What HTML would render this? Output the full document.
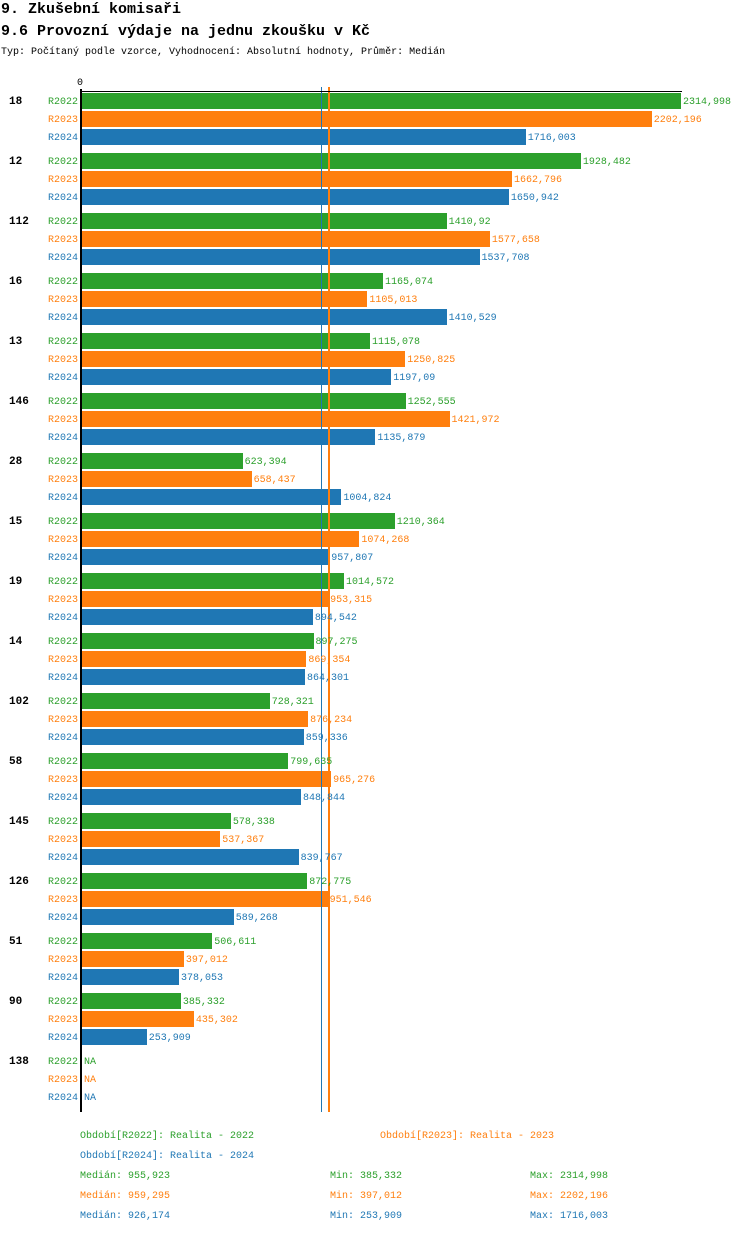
<!DOCTYPE html>
<html><head><meta charset="utf-8"><style>
body{margin:0;background:#fff;width:750px;height:1232px;overflow:hidden;font-family:"Liberation Mono","DejaVu Sans Mono",monospace}
svg text{font-family:"Liberation Mono","DejaVu Sans Mono",monospace}
</style></head><body>
<svg id="chart" width="750" height="1232" xmlns="http://www.w3.org/2000/svg" shape-rendering="crispEdges">
<text x="1" y="13" font-size="15" font-weight="bold">9. Zkušební komisaři</text>
<text x="1" y="35" font-size="15" font-weight="bold">9.6 Provozní výdaje na jednu zkoušku v Kč</text>
<text x="1" y="54" font-size="10">Typ: Počítaný podle vzorce, Vyhodnocení: Absolutní hodnoty, Průměr: Medián</text>
<g id="bars"></g>
</svg>
<script>
const categories=["18","12","112","16","13","146","28","15","19","14","102","58","145","126","51","90","138"];
const seriesNames=["R2022","R2023","R2024"];
const colors=["#2ca02c","#ff7f0e","#1f77b4"];
const r2022=[2314.998,1928.482,1410.92,1165.074,1115.078,1252.555,623.394,1210.364,1014.572,897.275,728.321,799.635,578.338,872.775,506.611,385.332,null];
const r2023=[2202.196,1662.796,1577.658,1105.013,1250.825,1421.972,658.437,1074.268,953.315,869.354,876.234,965.276,537.367,951.546,397.012,435.302,null];
const r2024=[1716.003,1650.942,1537.708,1410.529,1197.09,1135.879,1004.824,957.807,894.542,864.301,859.336,848.844,839.767,589.268,378.053,253.909,null];
const medians=[955.923,959.295,926.174];
const mins=[385.332,397.012,253.909];
const maxs=[2314.998,2202.196,1716.003];
const series=[r2022,r2023,r2024];
const NS="http://www.w3.org/2000/svg";
const g=document.getElementById('bars');
const x0=81, maxV=Math.max(...maxs), pxMax=600;
const xs=v=>x0+v/maxV*pxMax;
const fmt=v=>String(v).replace('.',',');
function mk(tag,attrs,txt){const e=document.createElementNS(NS,tag);for(const k in attrs)e.setAttribute(k,attrs[k]);if(txt!==undefined)e.textContent=txt;g.appendChild(e);return e;}
const top0=93,groupH=60,barPitch=18,barH=16;
const labels=[];
categories.forEach((c,i)=>{
  const gy=top0+i*groupH;
  const t=mk('text',{x:9,y:gy+11,'font-size':11,'font-weight':'bold'},c);
  
  
  series.forEach((s,j)=>{
    const y=gy+j*barPitch;
    const sl=mk('text',{x:78,y:y+11,'font-size':10,fill:colors[j],'text-anchor':'end'},seriesNames[j]);
    
    
    const v=s[i];
    if(v===null){
      const na=mk('text',{x:84,y:y+11,'font-size':10,fill:colors[j]},'NA');
      
      
      return;
    }
    const r=mk('rect',{x:x0,y:y,width:Math.round(xs(v)-x0),height:barH,fill:colors[j]});
    
    
    labels.push([xs(v)+2,y+11,fmt(v),colors[j]]);
  });
});
const bottom=1112;
[0,2,1].forEach(j=>{
  const w=j===1?2:1;
  const ml=mk('rect',{x:Math.floor(xs(medians[j]))-(w-1),y:87,width:w,height:bottom-87,fill:colors[j]});
  
  
});
labels.forEach(l=>{
  const vl=mk('text',{x:l[0],y:l[1],'font-size':10,fill:l[3]},l[2]);
  
  
});
const ax=mk('rect',{x:80,y:89,width:2,height:bottom-89,fill:'#000'});


const tx=mk('rect',{x:80,y:91,width:602,height:1,fill:'#000'});


const z=mk('text',{x:80,y:85,'font-size':10,'text-anchor':'middle'},'0');


const legend=[[80,1138,'Období[R2022]: Realita - 2022',0],[380,1138,'Období[R2023]: Realita - 2023',1],[80,1158,'Období[R2024]: Realita - 2024',2]];
legend.forEach(l=>{
  const t=mk('text',{x:l[0],y:l[1],'font-size':10,fill:colors[l[3]]},l[2]);
  
  
});
[0,1,2].forEach(j=>{
  const y=1178+j*20;
  const a=mk('text',{x:80,y:y,'font-size':10,fill:colors[j]},'Medián: '+fmt(medians[j]));
  
  
  const b=mk('text',{x:330,y:y,'font-size':10,fill:colors[j]},'Min: '+fmt(mins[j]));
  
  
  const c=mk('text',{x:530,y:y,'font-size':10,fill:colors[j]},'Max: '+fmt(maxs[j]));
  
  
});
</script>
</body></html>
